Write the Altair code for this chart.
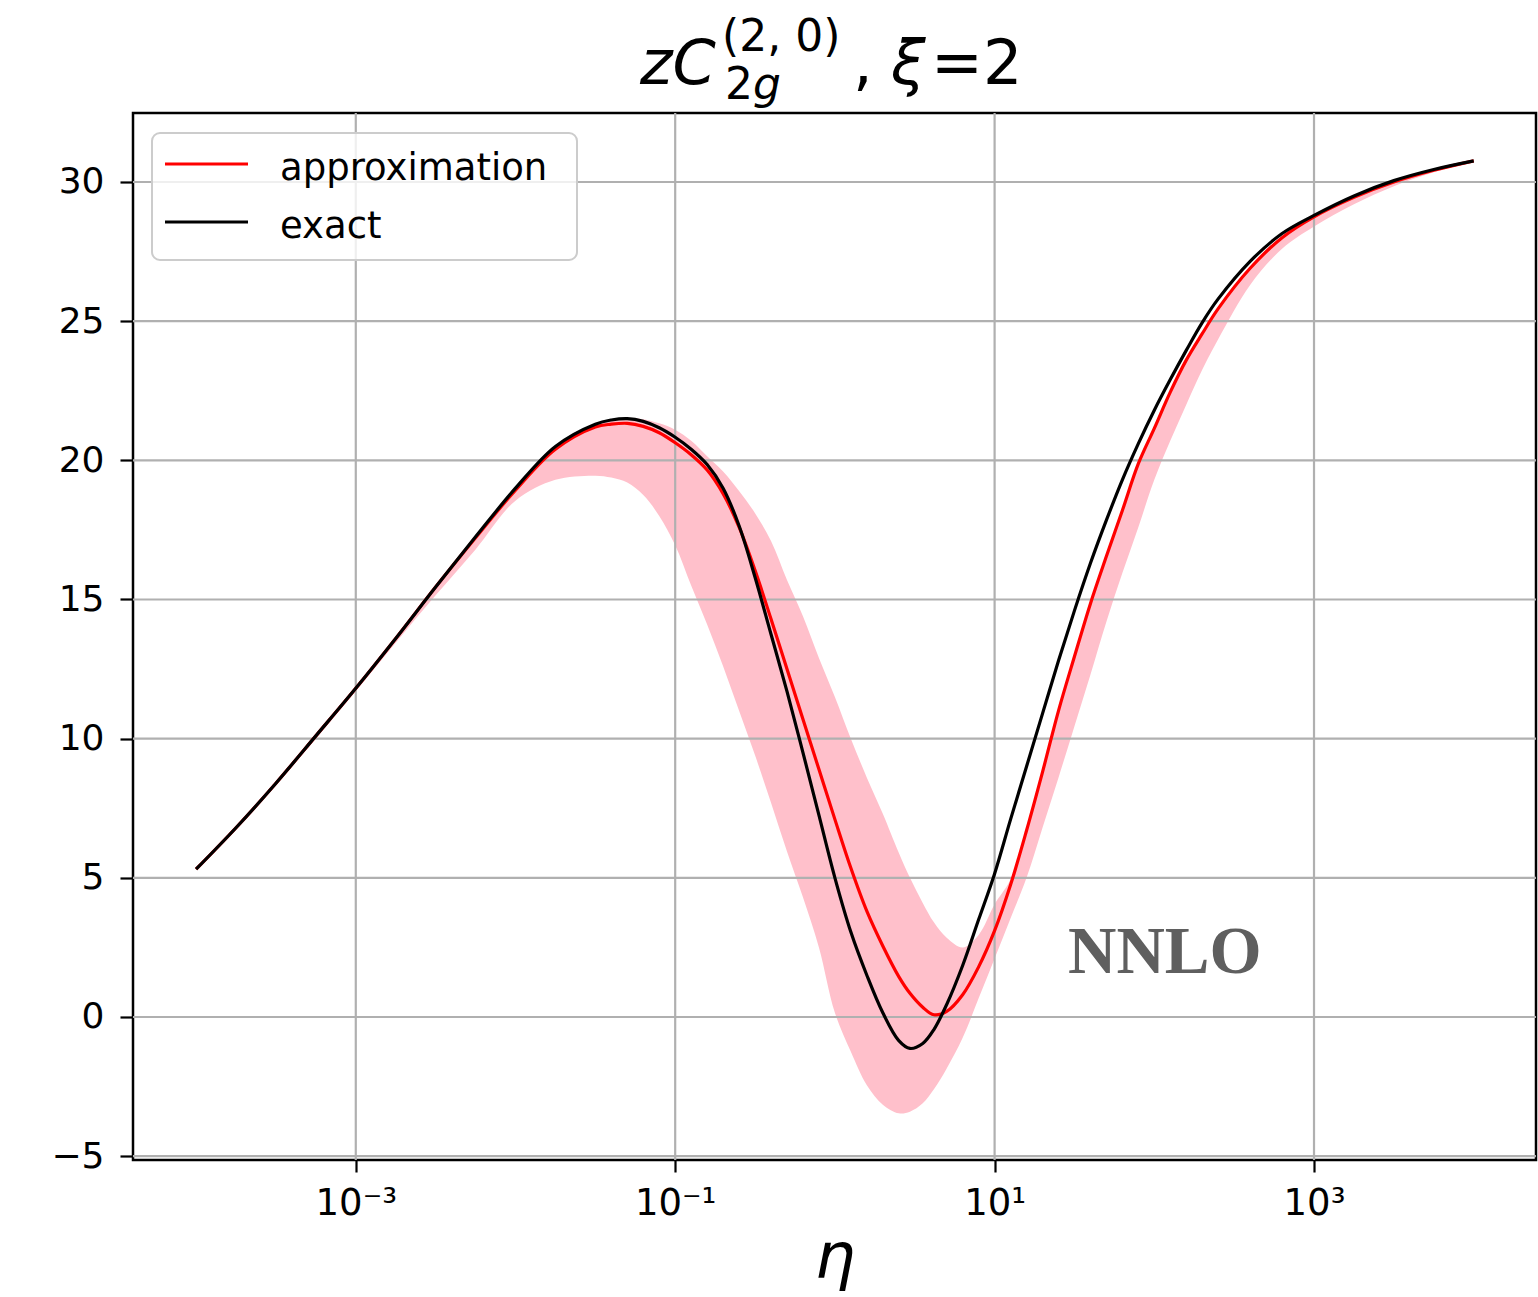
import altair as alt
import pandas as pd

# log10(eta) sample positions
LOG_ETA = [-4, -3.75, -3.5, -3.25, -3, -2.75, -2.5, -2.25, -2, -1.75, -1.5,
           -1.4, -1.3, -1.2, -1.1, -1.0, -0.9, -0.8, -0.7, -0.6, -0.5, -0.4, -0.3, -0.2, -0.1,
           0, 0.1, 0.2, 0.3, 0.4, 0.47, 0.55, 0.62, 0.7, 0.8, 0.9,
           1.0, 1.1, 1.2, 1.3, 1.4, 1.5, 1.6, 1.7, 1.8, 1.9, 2.0, 2.1, 2.2, 2.3, 2.4,
           2.6, 2.8, 3.0, 3.25, 3.5, 3.75, 4.0]

EXACT = [5.31, 6.8, 8.4, 10.1, 11.81, 13.6, 15.45, 17.25, 19.0, 20.5, 21.3,
         21.45, 21.5, 21.4, 21.17, 20.83, 20.4, 19.85, 19.0, 17.65, 15.8, 13.75, 11.7, 9.5, 7.25,
         5.0, 3.05, 1.5, 0.15, -0.85, -1.13, -0.95, -0.45, 0.45, 1.85, 3.5,
         5.15, 7.1, 9.0, 10.9, 12.8, 14.6, 16.3, 17.85, 19.3, 20.6, 21.8, 22.9, 23.95, 24.95, 25.8,
         27.15, 28.15, 28.8, 29.5, 30.05, 30.45, 30.76]

APPROX = [5.31, 6.8, 8.4, 10.1, 11.81, 13.6, 15.45, 17.22, 18.93, 20.4, 21.2,
          21.3, 21.33, 21.22, 20.99, 20.63, 20.2, 19.65, 18.8, 17.6, 16.05, 14.3, 12.5, 10.7, 8.9,
          7.1, 5.35, 3.8, 2.55, 1.45, 0.85, 0.35, 0.08, 0.2, 0.8, 1.8,
          3.1, 4.75, 6.7, 8.8, 11.0, 12.95, 14.85, 16.55, 18.2, 19.88, 21.15, 22.45, 23.6, 24.55, 25.45,
          26.9, 28.0, 28.75, 29.45, 30.0, 30.42, 30.76]

BAND_LO = [5.31, 6.78, 8.35, 10.0, 11.7, 13.45, 15.15, 16.8, 18.55, 19.3, 19.45,
           19.38, 19.2, 18.75, 18.0, 16.95, 15.5, 14.1, 12.6, 11.0, 9.4, 7.7, 5.95, 4.3, 2.5,
           0.15, -1.25, -2.45, -3.15, -3.46, -3.4, -3.1, -2.6, -1.85, -0.75, 0.67,
           2.1, 3.55, 5.0, 6.8, 8.6, 10.45, 12.3, 14.2, 15.95, 17.6, 19.3, 20.7, 22.0, 23.25, 24.35,
           26.3, 27.6, 28.4, 29.2, 29.85, 30.35, 30.72]

BAND_HI = [5.32, 6.82, 8.42, 10.12, 11.83, 13.62, 15.47, 17.27, 19.02, 20.52, 21.33,
           21.48, 21.53, 21.48, 21.33, 21.1, 20.7, 20.15, 19.6, 18.9, 18.1, 17.1, 15.7, 14.4, 12.9,
           11.5, 10.0, 8.6, 7.3, 5.9, 5.0, 4.1, 3.4, 2.85, 2.5, 2.95,
           4.05, 4.95, 6.75, 8.8, 11.0, 12.95, 14.85, 16.55, 18.2, 19.88, 21.15, 22.45, 23.6, 24.55, 25.45,
           26.9, 28.0, 28.75, 29.45, 30.0, 30.42, 30.76]

X_TICKS = [1e-3, 1e-1, 1e1, 1e3]
Y_TICKS = [-5, 0, 5, 10, 15, 20, 25, 30]
SERIES = ["approximation", "exact"]
COLORS = ["#ff0000", "#000000"]

eta = [10 ** v for v in LOG_ETA]
band_df = pd.DataFrame({"eta": eta, "lo": BAND_LO, "hi": BAND_HI})
approx_df = pd.DataFrame({"eta": eta, "value": APPROX, "series": SERIES[0]})
exact_df = pd.DataFrame({"eta": eta, "value": EXACT, "series": SERIES[1]})

W, H = 1403, 1047
FONT = "DejaVu Sans"
GRID = "#b0b0b0"

xscale = alt.Scale(type="log", domain=[10 ** -4.395, 10 ** 4.39], nice=False)
yscale = alt.Scale(domain=[-5.138, 32.479], nice=False, zero=False)

label_expr = ("datum.value < 0.01 ? '10\u207b\u00b3' : datum.value < 1 ? '10\u207b\u00b9' : "
              "datum.value < 100 ? '10\u00b9' : '10\u00b3'")

x_axis = alt.Axis(values=X_TICKS, labelExpr=label_expr, grid=False, domain=False,
                  tickSize=12, tickWidth=2.2, tickColor="black",
                  labelFont=FONT, labelFontSize=37, labelColor="black", labelPadding=13,
                  title="η", titleFont=FONT, titleFontSize=64, titleFontStyle="italic",
                  titleFontWeight="normal", titleColor="black", titlePadding=5)
y_axis = alt.Axis(values=Y_TICKS, grid=False, domain=False, tickSize=13, tickWidth=2.2,
                  tickColor="black", labelFont=FONT, labelFontSize=36, labelColor="black",
                  labelPadding=16, title=None, format="d")

band = alt.Chart(band_df).mark_area(color="#ffc0cb", opacity=1, interpolate="catmull-rom").encode(
    x=alt.X("eta:Q", scale=xscale, axis=x_axis),
    y=alt.Y("lo:Q", scale=yscale, axis=y_axis),
    y2="hi:Q",
)

grid_x = alt.Chart(pd.DataFrame({"t": X_TICKS})).mark_rule(color=GRID, strokeWidth=2.2).encode(
    x=alt.X("t:Q", scale=xscale, axis=x_axis))
grid_y = alt.Chart(pd.DataFrame({"t": Y_TICKS})).mark_rule(color=GRID, strokeWidth=2.2).encode(
    y=alt.Y("t:Q", scale=yscale, axis=y_axis))

color_enc = alt.Color("series:N", scale=alt.Scale(domain=SERIES, range=COLORS), legend=None)

approx_line = alt.Chart(approx_df).mark_line(strokeWidth=3.2, interpolate="catmull-rom").encode(
    x=alt.X("eta:Q", scale=xscale, axis=x_axis), y=alt.Y("value:Q", scale=yscale, axis=y_axis),
    color=color_enc)
exact_line = alt.Chart(exact_df).mark_line(strokeWidth=3.2, interpolate="catmull-rom").encode(
    x=alt.X("eta:Q", scale=xscale, axis=x_axis), y=alt.Y("value:Q", scale=yscale, axis=y_axis),
    color=color_enc)


def one(s):
    return pd.DataFrame({"s": [s]})


def txt(s, x, y, size, italic=False, font=FONT, color="black", weight="normal"):
    return alt.Chart(one(s)).mark_text(
        font=font, fontSize=size, fontStyle="italic" if italic else "normal", fontWeight=weight,
        align="left", baseline="alphabetic", color=color
    ).encode(text="s:N", x=alt.value(x), y=alt.value(y))


title_parts = [
    txt("zC", 507, -29, 62, italic=True),
    txt("(2, 0)", 589, -62, 44),
    txt("2", 592, -14, 44),
    txt("g", 620, -14, 44, italic=True),
    txt(",", 720, -29, 62),
    txt("ξ", 758, -29, 62, italic=True),
    txt("=2", 798, -29, 62),
]

# legend (frame, line samples and labels)
legend_box = alt.Chart(one("box")).mark_rect(
    fill="white", fillOpacity=0.8, stroke="#cccccc", strokeWidth=2, cornerRadius=8
).encode(x=alt.value(19), x2=alt.value(444), y=alt.value(20), y2=alt.value(147))
legend_df = pd.DataFrame({"series": SERIES, "ly": [51, 109], "ty": [67, 125]})
legend_lines = alt.Chart(legend_df).mark_rule(strokeWidth=3).encode(
    x=alt.value(32), x2=alt.value(115), y=alt.Y("ly:Q", scale=None), color=color_enc)
legend_text = alt.Chart(legend_df).mark_text(
    font=FONT, fontSize=37, align="left", baseline="alphabetic", color="black"
).encode(x=alt.value(147), y=alt.Y("ty:Q", scale=None), text="series:N")

nnlo = txt("NNLO", 935, 860, 67, font="Liberation Serif", color="#5f5f5f", weight="bold")

chart = alt.layer(band, grid_x, grid_y, approx_line, exact_line, nnlo,
                  legend_box, legend_lines, legend_text, *title_parts).properties(
    width=W, height=H, background="white",
    padding={"left": 133, "top": 113, "right": 2, "bottom": 137},
    autosize=alt.AutoSizeParams(type="none"),
).configure_view(stroke="black", strokeWidth=2.5)

chart.save("out.html", embed_options={"renderer": "svg", "actions": False})
